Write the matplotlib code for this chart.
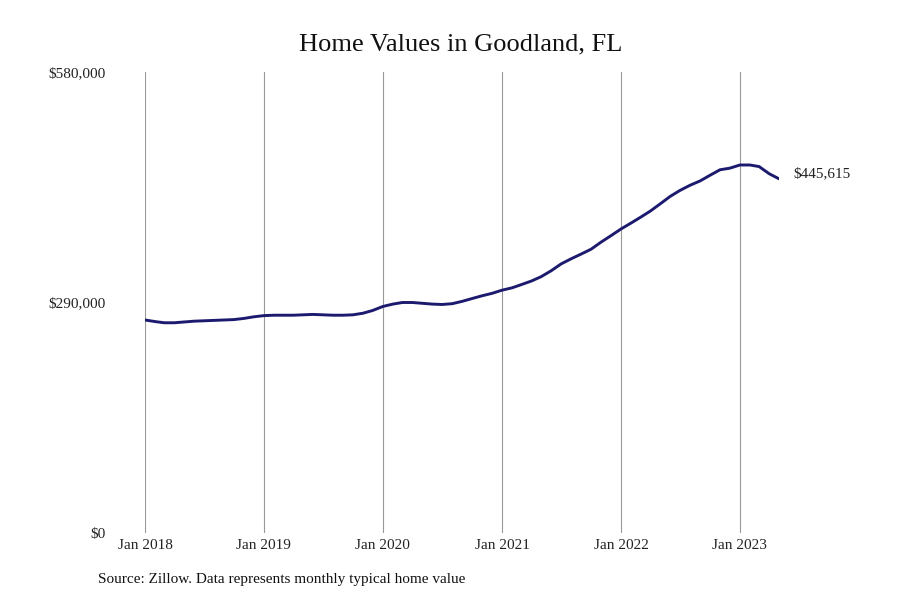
import numpy as np
import pandas as pd
import matplotlib
matplotlib.use("Agg")
import matplotlib.pyplot as plt
import matplotlib.dates as mdates
from matplotlib.ticker import FuncFormatter

plt.rcParams['font.family'] = ['Liberation Serif', 'DejaVu Serif']

# monthly typical home value, Jan 2018 - May 2023
values_2018 = [268000, 266000, 264500, 264500, 265500, 266500, 267000, 267500, 268000, 268500, 270000, 272000]
values_2019 = [273500, 274000, 274000, 274000, 274500, 275000, 274500, 274000, 274000, 274500, 276500, 280000]
values_2020 = [285000, 288000, 290000, 290000, 289000, 288000, 287500, 288500, 291500, 295000, 298500, 301500]
values_2021 = [305500, 308500, 312500, 317000, 322500, 330000, 338500, 345000, 351000, 357000, 366000, 374000]
values_2022 = [382500, 390000, 397000, 405000, 414000, 423500, 431000, 437500, 443000, 450000, 457000, 459000]
values_2023 = [463000, 463000, 461000, 452000, 445615]

values = values_2018 + values_2019 + values_2020 + values_2021 + values_2022 + values_2023
dates = pd.date_range("2018-01-01", periods=len(values), freq="MS")

y_ticks = [0, 290000, 580000]
x_tick_years = [2018, 2019, 2020, 2021, 2022, 2023]

fig = plt.figure(figsize=(9, 6), dpi=100)
ax = fig.add_axes([145/900, 1 - 533/600, (779 - 145)/900, (533 - 72)/600])

ax.plot(dates, values, color='#1c1a6e', linewidth=2.1, solid_capstyle='round')

ax.set_xlim(dates[0], dates[-1])
ax.set_ylim(0, 580000)

ticks = [pd.Timestamp(f"{y}-01-01") for y in x_tick_years]
ax.set_xticks(ticks)
ax.xaxis.set_major_formatter(mdates.DateFormatter("Jan %Y"))
ax.set_yticks(y_ticks)
ax.yaxis.set_major_formatter(FuncFormatter(lambda v, p: f"${v:,.0f}"))

ax.grid(axis='x', color='#999999', linewidth=0.8)
ax.set_axisbelow(True)
for s in ax.spines.values():
    s.set_visible(False)
ax.tick_params(axis='both', length=0, labelsize=11, colors='#222222')
ax.tick_params(axis='y', pad=28)
ax.tick_params(axis='x', pad=4)

ax.annotate(f"${values[-1]:,.0f}", xy=(dates[-1], values[-1]), xytext=(10, 4),
            textcoords='offset points', va='center', ha='left', fontsize=11,
            color='#222222', annotation_clip=False)

fig.text(461/900, 1 - 44/600, "Home Values in Goodland, FL", ha='center', va='center',
         fontsize=19, color='#111111')
fig.text(98/900, 1 - 580/600, "Source: Zillow. Data represents monthly typical home value",
         ha='left', va='center', fontsize=11, color='#111111')

fig.savefig("out.png", dpi=100)
